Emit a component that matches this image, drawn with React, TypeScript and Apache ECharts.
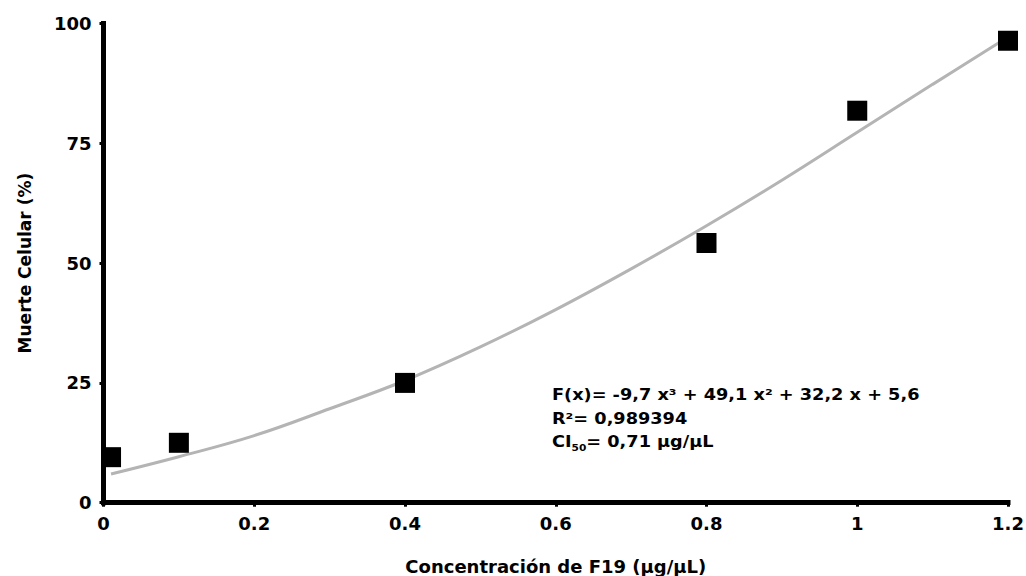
import React, { useEffect, useRef } from "react";
import * as echarts from "echarts";

const concentrations = [0.01, 0.1, 0.4, 0.8, 1.0, 1.2];
const cellDeath = [9.5, 12.5, 25, 54.2, 81.8, 96.4];

const fitX = [0.01, 0.1, 0.2, 0.3, 0.4, 0.5, 0.6, 0.7, 0.8, 0.9, 1.0, 1.1, 1.2];
const fitY = [6.0, 9.6, 14.0, 19.6, 25.5, 32.5, 40.3, 48.8, 57.8, 67.3, 77.3, 87.3, 97.2];

const xTicks = [0, 0.2, 0.4, 0.6, 0.8, 1, 1.2];
const yTicks = [0, 25, 50, 75, 100];

const eqLines = [
  "F(x)= -9,7 x³ + 49,1 x² + 32,2 x + 5,6",
  "R²= 0,989394",
];
const ciText = ["CI", "50", "= 0,71 µg/µL"];

const FONT = "'DejaVu Sans', 'Liberation Sans', Arial, sans-serif";

export default function App() {
  const ref = useRef<HTMLDivElement>(null);
  useEffect(() => {
    if (!ref.current) return;
    const chart = echarts.init(ref.current, null, { renderer: "svg" });
    const axisCommon = {
      axisLine: { show: true, lineStyle: { color: "#000", width: 5, cap: "square" } },
      axisTick: { show: true, length: 4, lineStyle: { color: "#000", width: 3 } },
      splitLine: { show: false },
      axisLabel: { color: "#000", fontWeight: "bold", fontSize: 18, fontFamily: FONT },
    };
    chart.setOption({
      animation: false,
      backgroundColor: "#fff",
      grid: {
        left: 103.5,
        right: 18,
        top: 23.5,
        bottom: 73.3,
        containLabel: false,
        outerBoundsMode: "none",
      },
      xAxis: {
        type: "value",
        min: 0,
        max: 1.2,
        interval: 0.2,
        ...axisCommon,
        axisLabel: {
          ...axisCommon.axisLabel,
          margin: 12,
          formatter: (v: number) => {
            const m = xTicks.find((t) => Math.abs(t - v) < 1e-6);
            return m === undefined ? "" : String(m);
          },
        },
        name: "Concentración de F19 (µg/µL)",
        nameLocation: "middle",
        nameGap: 55,
        nameTextStyle: { color: "#000", fontWeight: "bold", fontSize: 18, fontFamily: FONT },
      },
      yAxis: {
        type: "value",
        min: 0,
        max: 100,
        interval: 25,
        ...axisCommon,
        axisLabel: {
          ...axisCommon.axisLabel,
          margin: 12,
          formatter: (v: number) => (yTicks.includes(v) ? String(v) : ""),
        },
        name: "Muerte Celular (%)",
        nameLocation: "middle",
        nameGap: 70,
        nameTextStyle: { color: "#000", fontWeight: "bold", fontSize: 17, fontFamily: FONT },
      },
      series: [
        {
          type: "line",
          data: fitX.map((x, i) => [x, fitY[i]]),
          smooth: 0.4,
          showSymbol: false,
          symbol: "none",
          lineStyle: { color: "#b4b4b4", width: 3 },
          z: 1,
        },
        {
          type: "scatter",
          data: concentrations.map((x, i) => [x, cellDeath[i]]),
          symbol: "rect",
          symbolSize: 20,
          itemStyle: { color: "#000", opacity: 1 },
          z: 3,
        },
      ],
      graphic: [
        {
          type: "text",
          x: 552,
          y: 395,
          scaleX: 1.18,
          style: { text: eqLines[0], fill: "#000", font: `bold 15px ${FONT}`, verticalAlign: "middle" },
        },
        {
          type: "text",
          x: 552,
          y: 419,
          scaleX: 1.18,
          style: { text: eqLines[1], fill: "#000", font: `bold 15px ${FONT}`, verticalAlign: "middle" },
        },
        {
          type: "text",
          x: 552,
          y: 442,
          scaleX: 1.18,
          style: {
            text: `{a|${ciText[0]}}{s|${ciText[1]}}{a|${ciText[2]}}`,
            verticalAlign: "middle",
            rich: {
              a: { fill: "#000", fontWeight: "bold", fontSize: 15, fontFamily: FONT, lineHeight: 20 },
              s: { fill: "#000", fontWeight: "bold", fontSize: 9, fontFamily: FONT, lineHeight: 20, padding: [12, 0, 0, 0] },
            },
          },
        },
      ],
    });
    return () => chart.dispose();
  }, []);
  return <div ref={ref} style={{ width: 1026, height: 576, position: "absolute", left: 0, top: 0 }} />;
}
